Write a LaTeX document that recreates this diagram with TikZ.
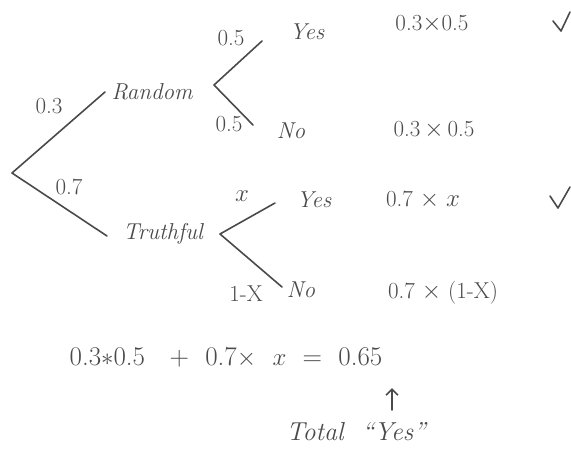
\documentclass[tikz,border=0pt]{standalone}
\usepackage{amsmath}
\usetikzlibrary{arrows.meta}
\definecolor{ink}{HTML}{4A4A4A}
\begin{document}
\begin{tikzpicture}[x=1pt,y=-1pt,
  ink line/.style={draw=ink,line width=1.6pt,line cap=round,line join=round},
  word/.style={text=ink,font=\fontsize{23}{25}\selectfont\itshape,inner sep=0pt},
  prob/.style={text=ink,font=\fontsize{23}{25}\selectfont,inner sep=0pt}]
\useasboundingbox (0,0) rectangle (571,450);
% nodes
\coordinate (root) at (12,173);
\coordinate (rE) at (105,92);
\coordinate (tE) at (107,236);
\node[word] (random) at (152,92) {Random};
\node[word] (truthful) at (163,234) {Truthful};
\coordinate (rV) at (214,85);
\coordinate (rU) at (262,41);
\coordinate (rL) at (253,125);
\coordinate (tV) at (220,234);
\coordinate (tU) at (275,203);
\coordinate (tL) at (282,287);
% branches
\draw[ink line] (rE) -- (root) -- (tE);
\draw[ink line] (rU) -- (rV) -- (rL);
\draw[ink line] (tU) -- (tV) -- (tL);
% probabilities
\node[prob] (p03) at (49,106) {0.3};
\node[prob] (p07) at (69,187) {0.7};
\node[prob] (p05a) at (231,38) {0.5};
\node[prob] (p05b) at (229,124) {0.5};
\node[prob] (px) at (242,196) {$x$};
\node[prob] (p1x) at (246,294) {1-X};
% outcomes
\node[word] (yes1) at (307,32) {Yes};
\node[word] (no1) at (291,131) {No};
\node[word] (yes2) at (314,200) {Yes};
\node[word] (no2) at (301,290) {No};
% products
\node[prob] (m1) at (432,24) {0.3$\times$0.5};
\node[prob] (m2) at (434,130) {0.3\,$\times$\,0.5};
\node[prob] (m3) at (423,200) {0.7 $\times$ $x$};
\node[prob] (m4) at (443,293) {0.7 $\times$ (1-X)};
% check marks
\draw[ink line] (553,21) -- (561,31) -- (570,12);
\draw[ink line] (550,196) -- (558,208) -- (570,187);
% equation
\node[prob,font=\fontsize{27}{29}\selectfont] (eq) at (226,357) {0.3$\ast$0.5 \ \ + \ 0.7$\times$ \ $x$ \ = \ 0.65};
\node[word,font=\fontsize{26}{28}\selectfont\itshape] (total) at (356,432) {Total \ ``Yes''};
\coordinate (aS) at (392,410);
\coordinate (aE) at (392,388);
\draw[ink line,-{Straight Barb[length=6pt,width=12pt]}] (aS) -- (aE);
\end{tikzpicture}
\end{document}
